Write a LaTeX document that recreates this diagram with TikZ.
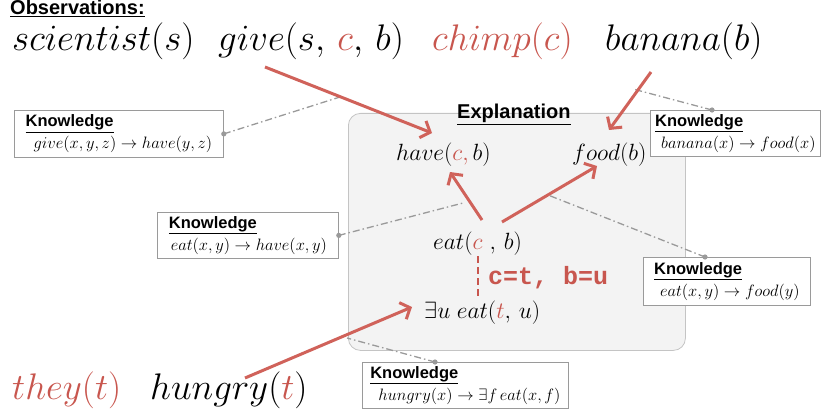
\RequirePackage{fix-cm}
\documentclass[tikz,border=0pt]{standalone}
\usepackage{fontspec}
\setsansfont{Liberation Sans}
\setmonofont{Liberation Mono}
\usetikzlibrary{arrows.meta,calc}
\definecolor{rd}{HTML}{C8564E}
\definecolor{ard}{HTML}{D0625A}
\definecolor{kg}{HTML}{9A9A9A}
\definecolor{bxf}{HTML}{F3F3F3}
\definecolor{bxd}{HTML}{C4C4C4}
\newcommand{\rc}[1]{{\color{rd}#1}}
\newcommand{\klab}{{\fontsize{16.5}{18}\selectfont\sffamily\bfseries\underline{Knowledge}}}
\tikzset{
  big/.style={inner sep=0pt, anchor=base west, font=\fontsize{37}{40}\selectfont},
  mid/.style={inner sep=0pt, anchor=base west, font=\fontsize{23.5}{26}\selectfont},
  head/.style={inner sep=0pt, anchor=base west, font=\fontsize{20}{22}\selectfont\sffamily\bfseries},
  kbox/.style={draw=kg, fill=white, line width=0.8pt, rectangle, anchor=north west, align=left, inner sep=0pt, font=\fontsize{16.5}{18}\selectfont},
  kdot/.style={fill=kg},
  kline/.style={draw=kg, line width=1.3pt, dash pattern=on 7pt off 3pt on 1.5pt off 3pt},
  rarrow/.style={draw=ard, line width=3pt, -{Straight Barb[length=8pt,width=18pt]}},
  explbox/.style={draw=bxd, fill=bxf, line width=0.8pt, rounded corners=12pt, rectangle, anchor=north west, inner sep=0pt},
}
\begin{document}
\begin{tikzpicture}[x=1pt,y=-1pt]
\useasboundingbox (0,0) rectangle (824,417);
% explanation box
\node[explbox, minimum width=337pt, minimum height=237pt] (ex) at (348,113) {};
% knowledge boxes
\node[kbox, minimum width=209pt, minimum height=47pt] (k1) at (14,110) {\klab\\[4pt]\hspace*{8pt}$give(x, y, z) \rightarrow have(y, z)$};
\node[kbox, minimum width=181pt, minimum height=46pt] (k2) at (157,212) {\klab\\[4pt]\hspace*{2pt}$eat(x, y) \rightarrow have(x, y)$};
\node[kbox, minimum width=170pt, minimum height=46pt] (k3) at (650,110) {\klab\\[4pt]\hspace*{6pt}$banana(x) \rightarrow food(x)$};
\node[kbox, minimum width=167pt, minimum height=48pt] (k4) at (643,257) {\klab\\[4pt]\hspace*{6pt}$eat(x, y) \rightarrow food(y)$};
\node[kbox, minimum width=206pt, minimum height=46pt] (k5) at (362,362) {\klab\\[4pt]\hspace*{8pt}$hungry(x) \rightarrow \exists f\, eat(x, f)$};
% dots
\coordinate (d1) at (k1.east);
\coordinate (d2) at (k2.east);
\coordinate (d3) at ($(k3.north west)+(62,0)$);
\coordinate (d4) at ($(k4.north west)+(62,0)$);
\coordinate (d5) at ($(k5.north west)+(73,0)$);
\coordinate (e1) at (340,97);
\coordinate (e2) at (463,203);
\coordinate (e3) at (633,89);
\coordinate (e4) at (548,195);
\coordinate (e5) at (347,338);
\draw[kline] (d1) -- (e1);
\draw[kline] (d2) -- (e2);
\draw[kline] (d3) -- (e3);
\draw[kline] (d4) -- (e4);
\draw[kline] (d5) -- (e5);
\foreach \d in {d1,d2,d3,d4,d5} \fill[kdot] (\d) circle (2.6pt);
% headings
\node[head] (obs) at (10,15) {\underline{Observations:}};
\node[head] (expl) at (457,119) {\underline{Explanation}};
% observations
\node[big] (sci) at (12,51) {$scientist(s)$};
\node[big] (give) at (218,51) {$give(s,\, \rc{c},\, b)$};
\node[big, text=rd] (chimp) at (432,51) {$chimp(c)$};
\node[big] (ban) at (605,51) {$banana(b)$};
\node[big, text=rd] (they) at (12,399) {$they(t)$};
\node[big] (hun) at (150,399) {$hungry(\rc{t})$};
% explanation contents
\node[mid] (have) at (396,160) {$have(\rc{c,}\, b)$};
\node[mid] (food) at (572,160) {$food(b)$};
\node[mid] (eat) at (433,249) {$eat(\rc{c}\ ,\, b)$};
\node[mid] (ex2) at (424,318) {$\exists u\; eat(\rc{t},\, u)$};
\node[inner sep=0pt, anchor=base west, font=\fontsize{25}{27}\selectfont\ttfamily\bfseries, text=rd] (sub) at (488,284) {c=t, b=u};
\coordinate (ds) at (478,256);
\coordinate (de) at (478,297);
\draw[draw=rd, line width=2.6pt, dash pattern=on 7pt off 4pt] (ds) -- (de);
% red arrows
\coordinate (a1s) at (265,67); \coordinate (a1e) at (432,133);
\coordinate (a2s) at (651,72); \coordinate (a2e) at (609,130);
\coordinate (a3s) at (482,220); \coordinate (a3e) at (450,172);
\coordinate (a4s) at (502,222); \coordinate (a4e) at (597,166);
\coordinate (a5s) at (245,378); \coordinate (a5e) at (412,307);
\draw[rarrow] (a1s) -- (a1e);
\draw[rarrow] (a2s) -- (a2e);
\draw[rarrow] (a3s) -- (a3e);
\draw[rarrow] (a4s) -- (a4e);
\draw[rarrow] (a5s) -- (a5e);
\end{tikzpicture}
\end{document}
